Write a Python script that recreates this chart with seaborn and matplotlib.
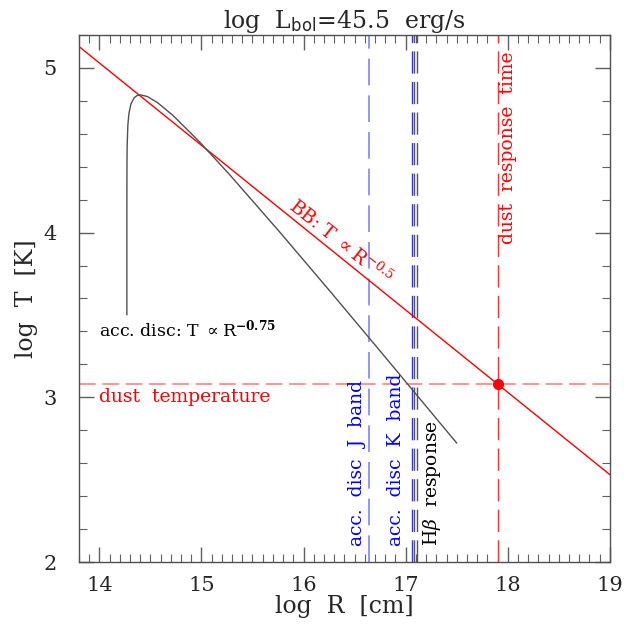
import numpy as np
import pandas as pd
import matplotlib
matplotlib.use("Agg")
import matplotlib.pyplot as plt
from matplotlib.ticker import MultipleLocator
import seaborn as sns

# --- data ---
# black body line: log T vs log R (straight line, end points)
bb_logR = [13.8, 19.0]
bb_logT = [5.13, 2.53]

# accretion disc curve (points along the curve)
disc_logR = [14.27, 14.2701, 14.271, 14.273, 14.28, 14.29, 14.31, 14.34, 14.37, 14.404,
             14.47, 14.57, 14.72, 14.97, 15.27, 15.77, 16.27, 16.77, 17.5]
disc_logT = [3.50, 4.163, 4.412, 4.530, 4.655, 4.722, 4.781, 4.817, 4.832, 4.836,
             4.826, 4.789, 4.712, 4.558, 4.356, 4.001, 3.636, 3.266, 2.722]

# characteristic radii / temperature
r_J_band = 16.64
r_K_band = 17.06
r_hbeta = [17.08, 17.11]
r_dust = 17.90
t_dust = 3.08

bb = pd.DataFrame({"logR": bb_logR, "logT": bb_logT})
disc = pd.DataFrame({"logR": disc_logR, "logT": disc_logT})

sns.set_style("ticks")
plt.rcParams["font.family"] = ["DejaVu Serif"]
plt.rcParams["mathtext.fontset"] = "dejavuserif"

fig = plt.figure(figsize=(6.36, 6.29), dpi=100)
ax = fig.add_axes([0.124, 0.1065, 0.835, 0.838])

# horizontal / vertical reference lines
ax.axhline(t_dust, color="#ff8080", lw=1.2, dashes=(10, 4), zorder=1)
ax.axvline(r_J_band, color="#8080ff", lw=1.2, dashes=(16, 6), zorder=1)
ax.axvline(r_K_band, color="#3030ff", lw=1.0, dashes=(16, 6), zorder=1)
for r in r_hbeta:
    ax.axvline(r, color="#555555", lw=1.0, dashes=(16, 6), zorder=1)
ax.axvline(r_dust, color="#ff3030", lw=1.0, dashes=(16, 6), zorder=1)

# curves
sns.lineplot(data=bb, x="logR", y="logT", ax=ax, color="red", lw=1.0, sort=False)
sns.lineplot(data=disc, x="logR", y="logT", ax=ax, color="#505050", lw=1.0, sort=False)
ax.plot([r_dust], [t_dust], "o", color="red", ms=7, zorder=5)

# text labels
fs = 13.5
ax.text(14.0, 3.41, r"acc. disc: T $\propto$R$^{\mathbf{-0.75}}$", fontsize=12.5,
        color="black", ha="left", va="center")
ax.text(14.0, 3.0, "dust  temperature", fontsize=fs, color="red", ha="left", va="center")
ax.text(16.36, 3.94, r"BB: T $\propto$R$^{-0.5}$", fontsize=fs, color="red",
        ha="center", va="center", rotation=-38.5, rotation_mode="anchor")
ax.text(16.52, 2.1, "acc.  disc  J  band", fontsize=fs, color="blue",
        rotation=90, ha="center", va="bottom")
ax.text(16.91, 2.1, "acc.  disc  K  band", fontsize=fs, color="blue",
        rotation=90, ha="center", va="bottom")
ax.text(17.26, 2.1, r"H$\beta$  response", fontsize=fs, color="black",
        rotation=90, ha="center", va="bottom")
ax.text(18.0, 5.1, "dust  response  time", fontsize=fs, color="red",
        rotation=90, ha="center", va="top")

# axes
ax.set_xlim(13.8, 19.0)
ax.set_ylim(2.0, 5.2)
ax.xaxis.set_major_locator(MultipleLocator(1))
ax.xaxis.set_minor_locator(MultipleLocator(0.1))
ax.yaxis.set_major_locator(MultipleLocator(1))
ax.yaxis.set_minor_locator(MultipleLocator(0.2))
ax.tick_params(which="both", direction="in", top=True, right=True, color="#606060",
               labelsize=15)
ax.tick_params(which="major", length=11, width=1.0)
ax.tick_params(axis="x", which="major", pad=10)
ax.tick_params(axis="y", which="major", pad=16)
ax.tick_params(which="minor", length=5.5, width=0.8)
for s in ax.spines.values():
    s.set_color("#505050")
    s.set_linewidth(1.0)

ax.set_xlabel("log  R  [cm]", fontsize=17, labelpad=0)
ax.set_ylabel("log  T  [K]", fontsize=17, labelpad=4)
ax.set_title(r"log  L$_{\mathsf{bol}}$=45.5  erg/s", fontsize=17, pad=4)

fig.savefig("out.png", dpi=100)
